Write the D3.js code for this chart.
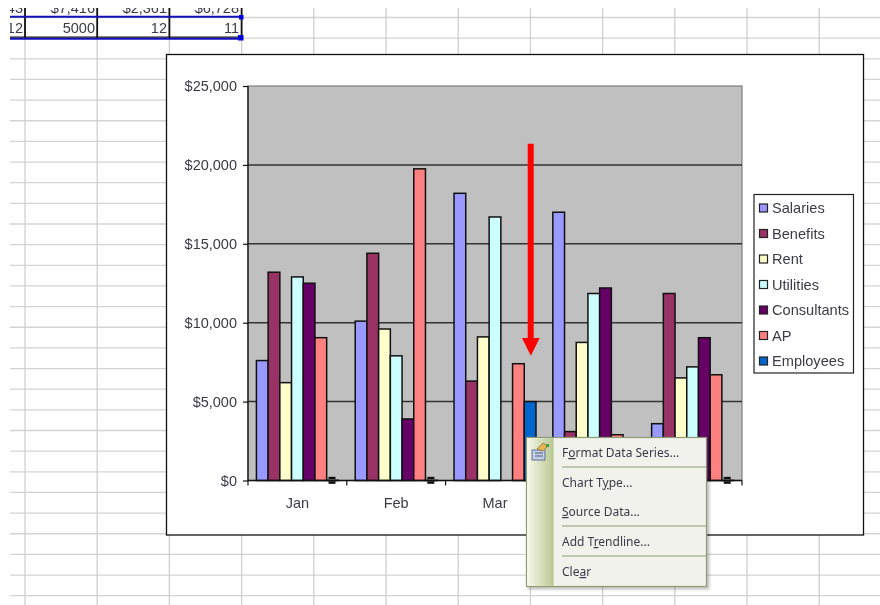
<!DOCTYPE html>
<html>
<head>
<meta charset="utf-8">
<script src="https://cdn.jsdelivr.net/npm/d3@7"></script>
<style>
  html, body { margin: 0; padding: 0; background: #fff; }
  svg { display: block; filter: blur(0.4px); font-family: "Liberation Sans", Arial, sans-serif; }
  text { fill: #3b3a48; }
</style>
</head>
<body>
<svg id="chart" width="880" height="605"></svg>
<script>
const months = ['Jan', 'Feb', 'Mar', 'Apr', 'May']
// Apr and May labels sit behind the context menu in the picture
const visibleMonths = ['Jan', 'Feb', 'Mar']
const seriesNames = ['Salaries', 'Benefits', 'Rent', 'Utilities', 'Consultants', 'AP', 'Employees']
const seriesColors = ['#9999ff', '#993366', '#ffffcc', '#ccffff', '#660066', '#ff8080', '#0066cc']

const salaries = [7600, 10100, 18200, 17000, 3600]
const benefits = [13200, 14400, 6300, 3100, 11850]
const rent = [6200, 9600, 9100, 8750, 6500]
const utilities = [12900, 7900, 16700, 11850, 7200]
const consultants = [12500, 3900, 0, 12200, 9050]
const ap = [9050, 19750, 7400, 2900, 6700]
const employees = [12, 12, 5000, 12, 11]
const seriesValues = [salaries, benefits, rent, utilities, consultants, ap, employees]

const yTicks = [0, 5000, 10000, 15000, 20000, 25000]

const sheetRowAbove = ['43', '$7,416', '$2,361', '$6,728']
const sheetRow = ['12', '5000', '12', '11']
const menuItems = [
  { before: 'F', key: 'o', after: 'rmat Data Series...' },
  { before: 'Chart T', key: 'y', after: 'pe...' },
  { before: '', key: 'S', after: 'ource Data...' },
  { before: 'Add T', key: 'r', after: 'endline...' },
  { before: 'Cle', key: 'a', after: 'r' }
]
const menuRows = [457, 487, 516, 546, 576]
const menuSeparators = [467, 526, 556]

const svg = d3.select('#chart')

// worksheet behind the chart
const gridX = d3.range(12).map(i => 25 + i * 72.2)
const gridY = d3.range(29).map(i => 17.5 + i * 20.65)

const sheet = svg.append('g')
sheet.selectAll('line.h').data(gridY).join('line')
  .attr('class', 'h')
  .attr('x1', 10).attr('x2', 880)
  .attr('y1', d => d).attr('y2', d => d)
  .attr('stroke', '#d4d4d4').attr('stroke-width', 1.3)
sheet.selectAll('line.v').data(gridX).join('line')
  .attr('class', 'v')
  .attr('x1', d => d).attr('x2', d => d)
  .attr('y1', 8).attr('y2', 605)
  .attr('stroke', '#cfcfcf').attr('stroke-width', 1.3)

svg.append('clipPath').attr('id', 'rowClip')
  .append('rect').attr('x', 10).attr('y', 8).attr('width', 240).attr('height', 32)

const cellRight = [24, 96, 168, 240]
const cells = sheet.append('g').attr('clip-path', 'url(#rowClip)')
cells.selectAll('text.above').data(sheetRowAbove).join('text')
  .attr('class', 'above')
  .attr('x', (d, i) => cellRight[i] - 1).attr('y', 13)
  .attr('text-anchor', 'end').attr('font-size', 14.5)
  .text(d => d)
cells.selectAll('text.row').data(sheetRow).join('text')
  .attr('class', 'row')
  .attr('x', (d, i) => cellRight[i] - 1).attr('y', 33)
  .attr('text-anchor', 'end').attr('font-size', 14.5)
  .text(d => d)

sheet.selectAll('line.cell').data(gridX.slice(0, 4)).join('line')
  .attr('class', 'cell')
  .attr('x1', d => d).attr('x2', d => d)
  .attr('y1', 8).attr('y2', 38)
  .attr('stroke', '#111').attr('stroke-width', 1.8)
sheet.append('line').attr('x1', 10).attr('x2', 241).attr('y1', 37.2).attr('y2', 37.2)
  .attr('stroke', '#111').attr('stroke-width', 1.3)
sheet.append('line').attr('x1', 10).attr('x2', 241).attr('y1', 16.8).attr('y2', 16.8)
  .attr('stroke', '#1111bb').attr('stroke-width', 1.9)
sheet.append('line').attr('x1', 10).attr('x2', 241).attr('y1', 38.8).attr('y2', 38.8)
  .attr('stroke', '#1111bb').attr('stroke-width', 1.9)
sheet.append('rect').attr('x', 239).attr('y', 15).attr('width', 4.5).attr('height', 4.5).attr('fill', '#0000e0')
sheet.append('rect').attr('x', 238).attr('y', 35).attr('width', 5.5).attr('height', 5.5).attr('fill', '#0000e0')

// chart area
svg.append('rect')
  .attr('x', 166.5).attr('y', 54.5).attr('width', 697).attr('height', 480.5)
  .attr('fill', '#fff').attr('stroke', '#111').attr('stroke-width', 1.3)

const x = d3.scaleBand().domain(months).range([248, 742])
const xInner = d3.scaleBand().domain(seriesNames).range([0, x.bandwidth()]).paddingOuter(0.72).paddingInner(0)
const y = d3.scaleLinear().domain([0, 25000]).range([480.5, 86])

svg.append('rect')
  .attr('x', x.range()[0]).attr('y', y(25000))
  .attr('width', x.range()[1] - x.range()[0]).attr('height', y(0) - y(25000))
  .attr('fill', '#c0c0c0').attr('stroke', '#7f7f7f').attr('stroke-width', 1.2)

svg.append('g').selectAll('line').data(yTicks.slice(1, 5)).join('line')
  .attr('x1', x.range()[0]).attr('x2', x.range()[1])
  .attr('y1', d => y(d)).attr('y2', d => y(d))
  .attr('stroke', '#333').attr('stroke-width', 1.5)

const bars = seriesNames.flatMap((name, s) => months.map((m, i) => ({
  name, month: m, value: seriesValues[s][i], color: seriesColors[s]
}))).filter(d => d.value > 0)

svg.append('g').selectAll('rect').data(bars).join('rect')
  .attr('x', d => x(d.month) + xInner(d.name))
  .attr('y', d => y(d.value))
  .attr('width', xInner.bandwidth())
  .attr('height', d => y(0) - y(d.value))
  .attr('fill', d => d.color)
  .attr('stroke', '#111').attr('stroke-width', 1.5)

// selection handles on the near-zero Employees bars
const handles = bars.filter(d => d.name === 'Employees' && d.value < 100)
const handleG = svg.append('g')
handleG.selectAll('rect.h').data(handles).join('rect')
  .attr('class', 'h')
  .attr('x', d => x(d.month) + xInner(d.name) + xInner.bandwidth() / 2 - 4)
  .attr('y', d => y(d.value) - 3.5)
  .attr('width', 7).attr('height', 7)
  .attr('fill', '#111')
handleG.selectAll('rect.m').data(handles).join('rect')
  .attr('class', 'm')
  .attr('x', d => x(d.month) + xInner(d.name) + xInner.bandwidth() / 2 - 4)
  .attr('y', d => y(d.value) - 1)
  .attr('width', 7).attr('height', 2)
  .attr('fill', '#8a8a8a')

// axes
const yAxis = d3.axisLeft(y).tickValues(yTicks).tickSize(5).tickPadding(6)
  .tickFormat(d => d3.format('$,')(d))
const yG = svg.append('g').attr('transform', `translate(${x.range()[0]},0)`).call(yAxis)
yG.selectAll('text').attr('font-size', 14.5).style('font-family', 'inherit')
yG.selectAll('line').attr('stroke', '#111').attr('stroke-width', 1.2)
yG.select('.domain').attr('stroke', '#111').attr('stroke-width', 1.3).attr('d', `M0,${y(25000)}V${y(0)}`)

const xAxis = d3.axisBottom(x).tickValues(visibleMonths).tickSize(0).tickPadding(17)
const xG = svg.append('g').attr('transform', `translate(0,${y(0)})`).call(xAxis)
xG.selectAll('text').attr('font-size', 14.5).style('font-family', 'inherit')
xG.select('.domain').attr('stroke', '#111').attr('stroke-width', 1.3).attr('d', `M${x.range()[0]},0H${x.range()[1]}`)
svg.append('g').selectAll('line').data(months.map(m => x(m)).concat(x.range()[1])).join('line')
  .attr('x1', d => d).attr('x2', d => d)
  .attr('y1', y(0)).attr('y2', y(0) + 5)
  .attr('stroke', '#111').attr('stroke-width', 1.2)

// legend
const legend = svg.append('g')
legend.append('rect')
  .attr('x', 754).attr('y', 194.5).attr('width', 99.5).attr('height', 178.5)
  .attr('fill', '#fff').attr('stroke', '#222').attr('stroke-width', 1.2)
const legendY = d3.scalePoint().domain(seriesNames).range([208, 361])
const item = legend.selectAll('g').data(seriesNames).join('g')
  .attr('transform', d => `translate(0,${legendY(d)})`)
item.append('rect')
  .attr('x', 759.5).attr('y', -4).attr('width', 8).attr('height', 8)
  .attr('fill', (d, i) => seriesColors[i]).attr('stroke', '#222').attr('stroke-width', 1.2)
item.append('text')
  .attr('x', 772).attr('y', 5)
  .attr('font-size', 14.6)
  .text(d => d)

// red arrow
svg.append('line')
  .attr('x1', 530.7).attr('x2', 530.7).attr('y1', 143.7).attr('y2', 340)
  .attr('stroke', '#ff0000').attr('stroke-width', 6)
svg.append('path')
  .attr('d', 'M522,338H539.7L530.8,355.7Z')
  .attr('fill', '#ff0000')

// context menu
const defs = svg.append('defs')
const grad = defs.append('linearGradient').attr('id', 'strip')
grad.append('stop').attr('offset', '0%').attr('stop-color', '#f8f8ea')
grad.append('stop').attr('offset', '100%').attr('stop-color', '#b8c791')
const shadow = defs.append('filter').attr('id', 'menuShadow')
  .attr('x', '-5%').attr('y', '-5%').attr('width', '115%').attr('height', '115%')
shadow.append('feDropShadow').attr('dx', 2).attr('dy', 2).attr('stdDeviation', 1.5)
  .attr('flood-color', '#000').attr('flood-opacity', 0.3)

const menu = svg.append('g')
menu.append('rect')
  .attr('x', 526.5).attr('y', 437.5).attr('width', 180).attr('height', 149)
  .attr('fill', '#f1f2ec').attr('stroke', '#8b9c74').attr('stroke-width', 1.2)
  .attr('filter', 'url(#menuShadow)')
menu.append('rect')
  .attr('x', 527.2).attr('y', 438.2).attr('width', 26.5).attr('height', 147.6)
  .attr('fill', 'url(#strip)')
menu.selectAll('line').data(menuSeparators).join('line')
  .attr('x1', 562).attr('x2', 706)
  .attr('y1', d => d).attr('y2', d => d)
  .attr('stroke', '#8b9c74').attr('stroke-width', 1.2)

const menuText = menu.selectAll('text').data(menuItems).join('text')
  .attr('x', 562).attr('y', (d, i) => menuRows[i])
  .attr('font-size', 12)
  .style('font-family', '"Noto Sans", Tahoma, sans-serif')
menuText.append('tspan').text(d => d.before)
menuText.append('tspan').attr('text-decoration', 'underline').text(d => d.key)
menuText.append('tspan').text(d => d.after)

// format icon
const icon = menu.append('g')
icon.append('rect').attr('x', 532).attr('y', 450).attr('width', 13).attr('height', 10)
  .attr('fill', '#c3cfe6').attr('stroke', '#5f7196').attr('stroke-width', 1)
icon.append('path').attr('d', 'M535,453H543M535,456H543')
  .attr('stroke', '#4c5d80').attr('stroke-width', 1)
icon.append('path').attr('d', 'M537,449L543,443L548,446L543,451Z')
  .attr('fill', '#e6b656').attr('stroke', '#8a6a2a').attr('stroke-width', 0.7)
icon.append('rect').attr('x', 546).attr('y', 444).attr('width', 3).attr('height', 3).attr('fill', '#4d9a3f')
</script>
</body>
</html>
